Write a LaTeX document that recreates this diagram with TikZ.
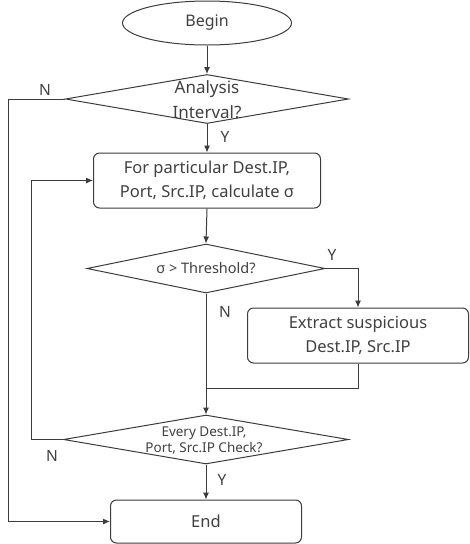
\documentclass[tikz,border=0pt]{standalone}
\usepackage{fontspec}
\setmainfont{Noto Sans}
\usetikzlibrary{shapes.geometric,arrows.meta}
\definecolor{ln}{HTML}{3C3C3C}
\definecolor{tx}{HTML}{404040}
\tikzset{
  every node/.style={text=tx},
  box/.style={draw=ln, line width=1pt, rounded corners=6pt, inner sep=0pt, align=center, font=\fontsize{16.5}{24}\selectfont},
  dec/.style={draw=ln, line width=1pt, diamond, inner sep=0pt, shape aspect=5},
  dtext/.style={align=center, inner sep=0pt},
  lab/.style={font=\fontsize{15.5}{18}\selectfont, inner sep=0pt},
  conn/.style={draw=ln, line width=1pt},
  arr/.style={conn, -{Latex[length=7pt,width=6pt]}}
}
\begin{document}
\begin{tikzpicture}[x=1pt,y=-1pt]
\useasboundingbox (0,0) rectangle (469,544);
% nodes
\node[draw=ln, line width=1pt, ellipse, minimum width=169, minimum height=44, inner sep=0pt, font=\fontsize{16}{18}\selectfont] (begin) at (207,23) {Begin};
\node[dec, minimum width=283, minimum height=49] (d1) at (207,99) {};
\node[dtext, font=\fontsize{17}{25}\selectfont] (d1t) at (207,100) {Analysis\\Interval?};
\node[box, minimum width=227, minimum height=55] (b1) at (207,180.5) {For particular Dest.IP,\\Port, Src.IP, calculate σ};
\node[dec, minimum width=238, minimum height=49] (d2) at (206,268.5) {};
\node[dtext, font=\fontsize{14.5}{16}\selectfont] (d2t) at (206,268.5) {σ > Threshold?};
\node[box, minimum width=221, minimum height=55] (b2) at (358,335.5) {Extract suspicious\\Dest.IP, Src.IP};
\node[dec, minimum width=285, minimum height=49] (d3) at (206,439.5) {};
\node[dtext, font=\fontsize{13.5}{16}\selectfont] (d3t) at (204,441) {Every Dest.IP,\\Port, Src.IP Check?};
\node[box, minimum width=191, minimum height=43] (end) at (206,521.5) {End};
% helper coordinates
\coordinate (L1) at (8,0);
\coordinate (L2) at (31,0);
\coordinate (m) at (206,388);
% connectors
\draw[arr] (begin.south) -- (d1.north);
\draw[arr] (d1.south) -- (b1.north);
\draw[arr] (d1.west) -- (d1.west -| L1) |- (end.west);
\draw[arr] (b1.south) -- (d2.north);
\draw[arr] (d2.east) -| (b2.north);
\draw[arr] (d2.south) -- (d3.north);
\draw[conn] (b2.south) |- (m);
\draw[arr] (d3.west) -- (d3.west -| L2) |- (b1.west);
\draw[arr] (d3.south) -- (end.north);
% labels
\node[lab] (n1) at (45,90) {N};
\node[lab] (y1) at (225,137) {Y};
\node[lab] (y2) at (332,255) {Y};
\node[lab] (n2) at (225,312) {N};
\node[lab] (n3) at (52,456) {N};
\node[lab] (y3) at (222,480) {Y};
\end{tikzpicture}
\end{document}
